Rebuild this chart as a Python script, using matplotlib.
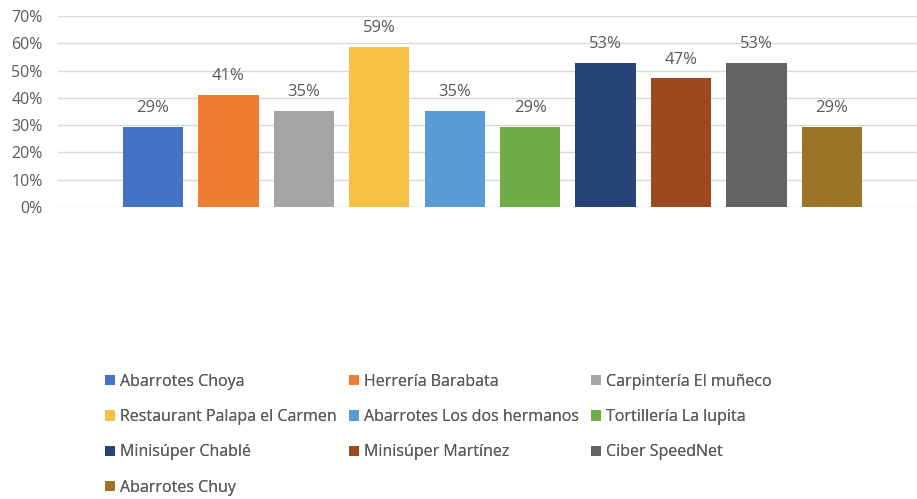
import matplotlib
matplotlib.use("Agg")
import matplotlib.pyplot as plt
from matplotlib.patches import Patch

categories = ["Abarrotes Choya", "Herrería Barabata", "Carpintería El muñeco",
              "Restaurant Palapa el Carmen", "Abarrotes Los dos hermanos",
              "Tortillería La lupita", "Minisúper Chablé", "Minisúper Martínez",
              "Ciber SpeedNet", "Abarrotes Chuy"]
values = [0.294, 0.412, 0.353, 0.588, 0.353, 0.294, 0.529, 0.471, 0.529, 0.294]
labels = ["29%", "41%", "35%", "59%", "35%", "29%", "53%", "47%", "53%", "29%"]
colors = ["#4472C4", "#ED7D31", "#A5A5A5", "#F8C143", "#5B9BD5", "#70AD47",
          "#264478", "#9E4820", "#636363", "#9B7428"]
yticks = [0, 0.1, 0.2, 0.3, 0.4, 0.5, 0.6, 0.7]
ytick_labels = ["0%", "10%", "20%", "30%", "40%", "50%", "60%", "70%"]

plt.rcParams['font.family'] = ['Open Sans', 'DejaVu Sans']
txt = "#595959"
fs = 11.5

fig = plt.figure(figsize=(9.17, 4.99), dpi=100)
ax = fig.add_axes([58/917, 1-207/499, 1-58/917, (207-16)/499])

x = list(range(len(values)))
bars = ax.bar(x, values, width=0.8, color=colors, zorder=3)
for xi, v, lab in zip(x, values, labels):
    ax.annotate(lab, (xi, v), xytext=(0, 7.5), textcoords="offset points",
                ha="center", va="bottom", fontsize=12, color=txt)

ax.set_xlim(-1.26, 10.13)
ax.set_ylim(0, 0.7)
ax.set_yticks(yticks)
ax.set_yticklabels(ytick_labels, fontsize=fs, color=txt)
ax.set_xticks([])
ax.tick_params(axis='y', length=0, pad=11)
ax.grid(axis='y', color="#D9D9D9", linewidth=1, zorder=0)
for s in ax.spines.values():
    s.set_visible(False)
ax.set_axisbelow(True)

handles = [Patch(facecolor=c, edgecolor='none') for c in colors]
columns = [[0, 3, 6, 9], [1, 4, 7], [2, 5, 8]]
col_x = [105, 349, 591]
for idxs, cx in zip(columns, col_x):
    leg = fig.legend([handles[i] for i in idxs], [categories[i] for i in idxs],
                     ncol=1, frameon=False, loc="upper left",
                     bbox_to_anchor=(cx/917, 1-374/499),
                     fontsize=fs, labelcolor=txt,
                     handlelength=0.6, handleheight=0.6, handletextpad=0.35,
                     labelspacing=1.2, borderaxespad=0, borderpad=0)
    fig.add_artist(leg)

fig.savefig("out.png", dpi=100)
